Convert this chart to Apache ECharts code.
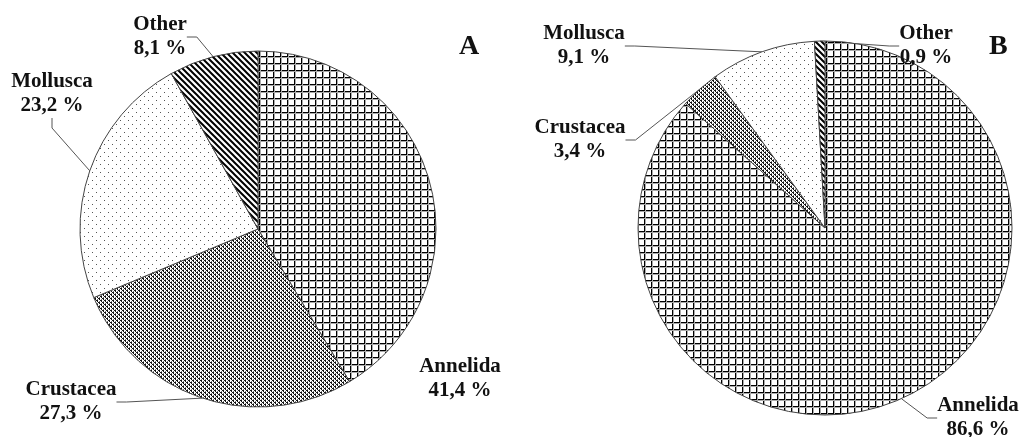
<!DOCTYPE html>
<html>
<head>
<meta charset="utf-8">
<script src="https://cdn.jsdelivr.net/npm/echarts@6/dist/echarts.min.js"></script>
<style>
html,body{margin:0;padding:0;background:#fff;}
#chart{width:1020px;height:437px;}
</style>
</head>
<body>
<div id="chart"></div>
<script>
// ---- data ----
const categories = ['Annelida', 'Crustacea', 'Mollusca', 'Other'];
const valuesA = [41.4, 27.3, 23.2, 8.1];
const valuesB = [86.6, 3.4, 9.1, 0.9];
const panelLetters = ['A', 'B'];

// ---- patterns ----
function makeTile(w, h, draw) {
  const c = document.createElement('canvas');
  c.width = w; c.height = h;
  const ctx = c.getContext('2d');
  ctx.fillStyle = '#fff';
  ctx.fillRect(0, 0, w, h);
  draw(ctx);
  return { image: c, repeat: 'repeat' };
}
const gridPattern = makeTile(7, 7, ctx => {
  ctx.fillStyle = '#000';
  ctx.fillRect(0, 0, 7, 1);
  ctx.fillRect(0, 0, 1, 7);
  ctx.fillStyle = '#aaa';
  ctx.fillRect(0, 1, 7, 1);
  ctx.fillRect(1, 0, 1, 7);
});
const denseDots = makeTile(4, 4, ctx => {
  ctx.fillStyle = '#111';
  ctx.fillRect(0, 0, 2, 1);
  ctx.fillRect(2, 2, 2, 1);
  ctx.fillRect(1, 1, 1, 1);
  ctx.fillRect(3, 3, 1, 1);
  ctx.fillStyle = '#777';
  ctx.fillRect(3, 1, 1, 1);
  ctx.fillRect(1, 3, 1, 1);
});
const sparseDots = makeTile(8, 8, ctx => {
  ctx.fillStyle = '#555';
  ctx.fillRect(0, 0, 1, 1);
  ctx.fillRect(4, 4, 1, 1);
});
const stripes = makeTile(6, 6, ctx => {
  ctx.strokeStyle = '#000';
  ctx.lineWidth = 2;
  ctx.beginPath();
  ctx.moveTo(-1, -1); ctx.lineTo(7, 7);
  ctx.moveTo(-4, 2); ctx.lineTo(2, 8);
  ctx.moveTo(2, -4); ctx.lineTo(8, 2);
  ctx.stroke();
});
const patterns = [gridPattern, denseDots, sparseDots, stripes];

const fmt = v => v.toFixed(1).replace('.', ',') + ' %';

// label centre positions (layout) per series, per category; third item = show guide line
const labelPos = [
  [[460, 379, false], [71, 402, true], [52, 94, true], [160, 37, true]],
  [[978, 418, true], [580, 140, true], [584, 46, true], [926, 46, true]]
];

function buildSeries(values, idx, center, radius) {
  return {
    type: 'pie',
    center: center,
    radius: radius,
    startAngle: 90,
    clockwise: true,
    avoidLabelOverlap: false,
    animation: false,
    silent: true,
    itemStyle: { borderColor: '#444', borderWidth: 1 },
    label: {
      show: true,
      position: 'outside',
      fontFamily: 'Liberation Serif',
      fontWeight: 'bold',
      fontSize: 21,
      lineHeight: 24,
      color: '#111',
      align: 'center',
      formatter: p => p.name + '\n' + fmt(p.value)
    },
    labelLine: { show: true, length: 10, length2: 10, lineStyle: { color: '#555', width: 1 } },
    labelLayout: function (p) {
      const lp = labelPos[idx][p.dataIndex];
      return { x: lp[0], y: lp[1], align: 'center', verticalAlign: 'middle' };
    },
    data: categories.map((c, i) => ({
      name: c,
      value: values[i],
      itemStyle: { color: patterns[i] },
      labelLine: { show: labelPos[idx][i][2] }
    }))
  };
}

const chart = echarts.init(document.getElementById('chart'), null, { renderer: 'canvas' });
chart.setOption({
  backgroundColor: '#fff',
  graphic: [
    { type: 'text', left: 459, top: 33, style: { text: panelLetters[0], font: 'bold 28px "Liberation Serif"', fill: '#111' } },
    { type: 'text', left: 989, top: 33, style: { text: panelLetters[1], font: 'bold 28px "Liberation Serif"', fill: '#111' } }
  ],
  series: [
    buildSeries(valuesA, 0, [258, 229], 178),
    buildSeries(valuesB, 1, [825, 228], 187)
  ]
});
</script>
</body>
</html>
